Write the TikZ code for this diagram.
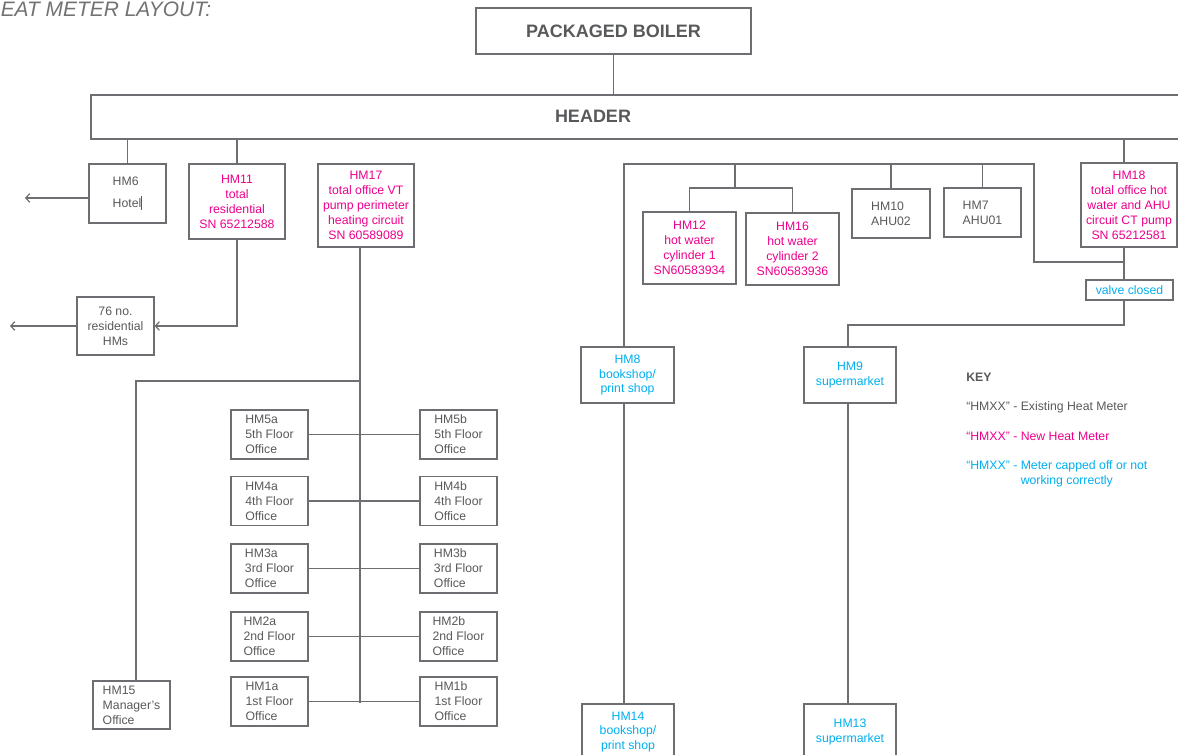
\documentclass[tikz,border=0pt]{standalone}
\usepackage{fontspec}
\setmainfont{Liberation Sans}
\usetikzlibrary{positioning,arrows.meta}
\definecolor{linegray}{HTML}{6D6E71}
\definecolor{oldmeter}{HTML}{58595B}
\definecolor{newmeter}{HTML}{EC008C}
\definecolor{capmeter}{HTML}{00AEEF}
\def\px{0.75pt}
\tikzset{
  mbox/.style 2 args={draw=linegray, line width=0.9pt, inner sep=0pt,
    minimum width=#1*\px, minimum height=#2*\px, align=center,
    font=\fontsize{9.2}{11.2}\selectfont, text=oldmeter},
  pipe/.style={draw=linegray, line width=0.9pt},
  outflow/.style={pipe, -{Straight Barb[length=3pt,width=6.5pt]}},
  newm/.style={text=newmeter},
  capm/.style={text=capmeter},
  bigtitle/.style={font=\fontsize{13.5}{16}\selectfont\bfseries, text=oldmeter},
  keytext/.style={inner sep=0pt, anchor=west, align=left,
    font=\fontsize{9.2}{11.2}\selectfont, text=oldmeter}
}
\begin{document}
\begin{tikzpicture}[x=0.75pt, y=-0.75pt]
\useasboundingbox (0,0) rectangle (1178,755);
\clip (0,0) rectangle (1178,755);
\node[anchor=base west, inner sep=0pt, font=\fontsize{15.7}{18}\selectfont\itshape,
  text=oldmeter!85] (title) at (0.5,17) {EAT METER LAYOUT:};
% boiler and header
\node[mbox={275}{46}, bigtitle] (boiler) at (613.5,31) {PACKAGED BOILER};
\node[mbox={1100}{44}] (header) at (641,117) {};
\node[bigtitle] (headertext) at (593,116) {HEADER};
\draw[pipe] (boiler.south) -- (boiler.south |- header.north);
% left hand side
\node[mbox={77}{59}, align=left] (HM6) at (127.5,193.5)
  {HM6\\[5pt]Hotel\rule[-1.5pt]{0.7pt}{10.5pt}};
\node[mbox={96}{75}, newm] (HM11) at (237,201.5)
  {HM11\\total\\residential\\SN 65212588};
\node[mbox={77}{58}] (res) at (115.5,326) {76 no.\\residential\\HMs};
\node[mbox={96}{83}, newm] (HM17) at (366,205.5)
  {HM17\\total office VT\\pump perimeter\\heating circuit\\SN 60589089};
\node[mbox={77}{48}, align=left] (HM15) at (131.5,705) {HM15\\Manager's\\Office};
\coordinate (hotel) at (25,198);
\coordinate (resout) at (10,326);
\draw[pipe] (HM6.north |- header.south) -- (HM6.north);
\draw[pipe] (HM11.north |- header.south) -- (HM11.north);
\draw[outflow] (HM6.west |- hotel) -- (hotel);
\draw[outflow] (HM11.south) -- (HM11.south |- res.east) -- (res.east);
\draw[outflow] (res.west) -- (resout);
% office floors
\coordinate (trunk) at (360,703);
\coordinate (mgr) at (136,381);
\draw[pipe] (HM17.south -| trunk) -- (trunk);
\draw[pipe] (mgr -| trunk) -- (mgr) -- (mgr |- HM15.north);
\foreach \n/\y/\fl in {5/434.5/5th,4/501/4th,3/568.5/3rd,2/636.5/2nd,1/701.5/1st}{
  \node[mbox={77}{49}, align=left] (HM\n a) at (269.5,\y) {HM\n a\\\fl\ Floor\\Office};
  \node[mbox={77}{49}, align=left] (HM\n b) at (458.5,\y) {HM\n b\\\fl\ Floor\\Office};
  \draw[pipe] (HM\n a.east) -- (HM\n b.west);
}
% right hand side
\node[mbox={93}{72}, newm] (HM12) at (689.5,248) {HM12\\hot water\\cylinder 1\\SN60583934};
\node[mbox={93}{72}, newm] (HM16) at (792.5,249) {HM16\\hot water\\cylinder 2\\SN60583936};
\node[mbox={78}{49}, align=left] (HM10) at (891,213.5) {HM10\\AHU02};
\node[mbox={77}{49}, align=left] (HM7) at (982.5,212.5) {HM7\\AHU01};
\node[mbox={96}{84}, newm] (HM18) at (1129,205)
  {HM18\\total office hot\\water and AHU\\circuit CT pump\\SN 65212581};
\node[mbox={87}{20}, capm] (valve) at (1129.5,290) {valve closed};
\node[mbox={93}{56}, capm] (HM8) at (627.5,375) {HM8\\bookshop/\\print shop};
\node[mbox={92}{56}, capm] (HM9) at (850,375) {HM9\\supermarket};
\node[mbox={92}{56}, capm] (HM14) at (628,732) {HM14\\bookshop/\\print shop};
\node[mbox={92}{56}, capm] (HM13) at (850,732) {HM13\\supermarket};
\coordinate (shopbus) at (624,164);
\coordinate (ahubus) at (1034,164);
\coordinate (cylbus) at (735,188);
\coordinate (hm18tee) at (1124,262);
\coordinate (smkbus) at (848,325);
\draw[pipe] (shopbus |- HM8.north) -- (shopbus) -- (ahubus) -- (ahubus |- hm18tee) -- (hm18tee);
\draw[pipe] (cylbus |- shopbus) -- (cylbus);
\draw[pipe] (HM12.north) -- (HM12.north |- cylbus) -- (HM16.north |- cylbus) -- (HM16.north);
\draw[pipe] (HM10.north |- shopbus) -- (HM10.north);
\draw[pipe] (HM7.north |- shopbus) -- (HM7.north);
\draw[pipe] (hm18tee |- header.south) -- (hm18tee |- HM18.north);
\draw[pipe] (hm18tee |- HM18.south) -- (hm18tee |- valve.north);
\draw[pipe] (hm18tee |- valve.south) -- (hm18tee |- smkbus) -- (smkbus) -- (smkbus |- HM9.north);
\draw[pipe] (shopbus |- HM8.south) -- (shopbus |- HM14.north);
\draw[pipe] (smkbus |- HM9.south) -- (smkbus |- HM13.north);
% key
\node[keytext, font=\fontsize{9.2}{11.2}\selectfont\bfseries] (key) at (966,377) {KEY};
\node[keytext] (keyold) at (966,407) {“HMXX” - Existing Heat Meter};
\node[keytext, newm] (keynew) at (966,436) {“HMXX” - New Heat Meter};
\node[keytext, capm] (keycap) at (966,473.5)
  {“HMXX” - Meter capped off or not\\\phantom{“HMXX” - }working correctly};
\end{tikzpicture}
\end{document}
